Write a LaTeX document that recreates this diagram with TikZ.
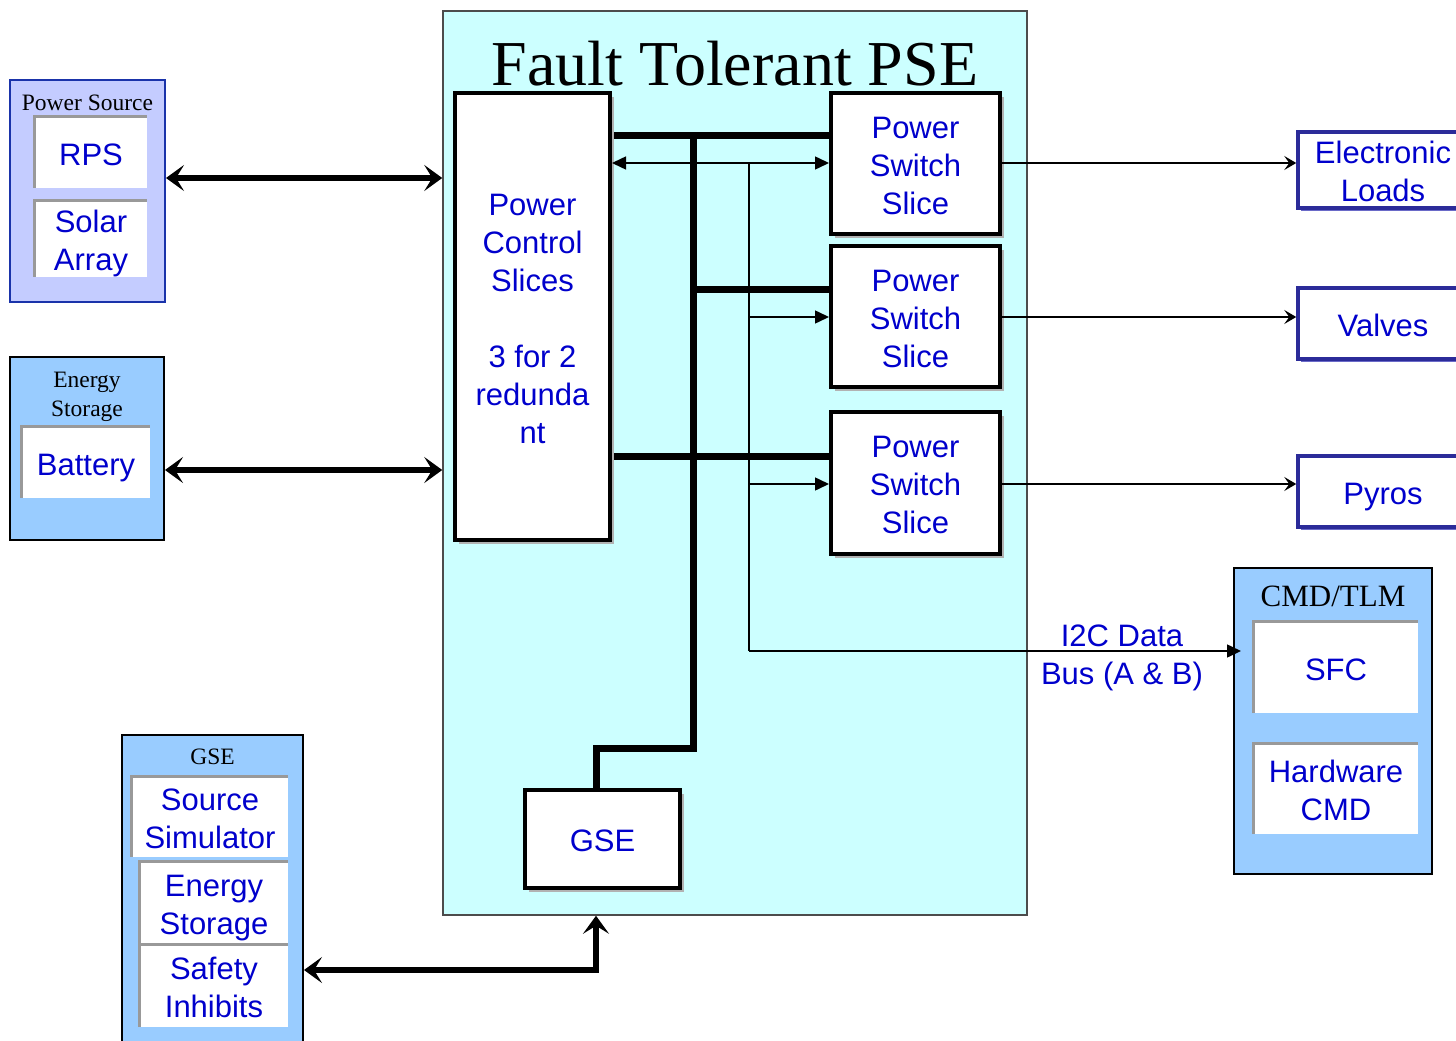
\documentclass[tikz,border=0pt]{standalone}
\usepackage{fontspec}
\setmainfont{Liberation Serif}
\newfontfamily\arialf{Liberation Sans}
\usetikzlibrary{arrows.meta,shadows}
\definecolor{txtblue}{HTML}{0000CC}
\definecolor{psefill}{HTML}{CCFFFF}
\definecolor{boxblue}{HTML}{99CCFF}
\definecolor{srcfill}{HTML}{C4CCFF}
\definecolor{srcedge}{HTML}{1A33AA}
\definecolor{loadedge}{HTML}{2B2B99}
\definecolor{loadshadow}{HTML}{6A6AC8}
\definecolor{insetgray}{HTML}{999999}
\newcommand\sansbody{\arialf\fontsize{31}{38}\selectfont}
\newcommand\smalltitle{\fontsize{23.5}{29}\selectfont}
% centred lines of box text, set a little below the geometric centre
\newcommand\boxtext[1]{\raisebox{-5pt}[\height][\depth]{\begin{tabular}{@{}c@{}}#1\end{tabular}}}
\tikzset{
  sized/.style 2 args={minimum width=#1pt, minimum height=#2pt},
  box/.style={rectangle, inner sep=0pt, font=\sansbody, text=txtblue},
  blkbox/.style={box, fill=white, draw=black, line width=4pt,
    drop shadow={shadow xshift=4pt, shadow yshift=-4pt, fill=gray!60, opacity=1}},
  insetbox/.style={box, fill=white},
  insetline/.style={draw=insetgray, line width=3pt},
  loadbox/.style={box, fill=white, draw=loadedge, line width=3.5pt,
    drop shadow={shadow xshift=3pt, shadow yshift=-3pt, fill=loadshadow, opacity=1}},
  container/.style={rectangle, inner sep=0pt, fill=boxblue, draw=black, line width=2pt},
  ctitle/.style={inner sep=0pt, align=center, font=\smalltitle},
  bus/.style={line width=7pt},
  thickarrow/.style={line width=6pt, {Stealth[length=18pt,width=26pt,inset=8pt]}-{Stealth[length=18pt,width=26pt,inset=8pt]}},
  thinarrow/.style={line width=1.5pt, -{Triangle[length=14pt,width=13pt]}},
  thindouble/.style={line width=1.5pt, {Triangle[length=14pt,width=13pt]}-{Triangle[length=14pt,width=13pt]}},
  outarrow/.style={line width=1.5pt, -{Stealth[length=12pt,width=14pt,inset=5pt]}},
}
\begin{document}
\begin{tikzpicture}[x=1pt,y=-1pt]
\clip (0,0) rectangle (1456,1041);
\fill[white] (0,0) rectangle (1456,1041);

% Fault tolerant PSE enclosure
\node[rectangle, inner sep=0pt, sized={584}{904}, fill=psefill, draw=black!70, line width=1.5pt] (pse) at (735,463) {};
\node[anchor=base, inner sep=0pt, font=\fontsize{64}{70}\selectfont] (psetitle) at (735,85) {Fault Tolerant PSE};

% power bus (thick)
\draw[bus] (610,135) -- (831,135);
\draw[bus] (693,135) -- (693,748) -- (596,748) -- (596,790);
\draw[bus] (693,289) -- (831,289);
\draw[bus] (610,456) -- (831,456);

% slices
\node[blkbox, sized={155}{447}] (pcs) at (532.5,316.5) {\boxtext{Power\\Control\\Slices\\ \\3 for 2\\redunda\\nt}};
\node[blkbox, sized={169}{141}] (pss1) at (915.5,163.5) {\boxtext{Power\\Switch\\Slice}};
\node[blkbox, sized={169}{141}] (pss2) at (915.5,316.5) {\boxtext{Power\\Switch\\Slice}};
\node[blkbox, sized={169}{142}] (pss3) at (915.5,483) {\boxtext{Power\\Switch\\Slice}};
\node[blkbox, sized={155}{98}] (gsei) at (602.5,839) {\boxtext{GSE}};

% data lines (thin)
\draw[thindouble] (pcs.east |- 0,163) -- (pss1.west |- 0,163);
\coordinate (tap) at (749,163);
\draw[line width=1.5pt] (tap) -- (749,651);
\draw[thinarrow] (749,317) -- (pss2.west |- 0,317);
\draw[thinarrow] (749,484) -- (pss3.west |- 0,484);

% power source
\node[rectangle, inner sep=0pt, sized={155}{222}, fill=srcfill, draw=srcedge, line width=2pt] (ps) at (87.5,191) {};
\node[ctitle] (pstitle) at (87.5,103) {Power Source};
\node[insetbox, sized={112}{71}] (rps) at (91,152.5) {\boxtext{RPS}};
\node[insetbox, sized={112}{73}] (solar) at (91,238.5) {\boxtext{Solar\\Array}};

% energy storage
\node[container, sized={154}{183}] (es) at (87,448.5) {};
\node[ctitle] (estitle) at (87,397) {Energy\\Storage};
\node[insetbox, sized={128}{71}] (batt) at (86,462.5) {\boxtext{Battery}};

% GSE
\node[container, sized={181}{315}] (gse) at (212.5,892.5) {};
\node[ctitle] (gsetitle) at (212.5,757) {GSE};
\node[insetbox, sized={156}{80}] (srcsim) at (210,817) {\boxtext{Source\\Simulator}};
\node[insetbox, sized={148}{81}] (gsees) at (214,902.5) {\boxtext{Energy\\Storage}};
\node[insetbox, sized={148}{82}] (safety) at (214,986) {\boxtext{Safety\\Inhibits}};

% CMD/TLM
\node[container, sized={198}{306}] (cmd) at (1333,721) {};
\node[ctitle, font=\fontsize{31}{36}\selectfont] (cmdtitle) at (1333,596) {CMD/TLM};
\node[insetbox, sized={164}{91}] (sfc) at (1336,667.5) {\boxtext{SFC}};
\node[insetbox, sized={164}{90}] (hwcmd) at (1336,789) {\boxtext{Hardware\\CMD}};

\foreach \n in {rps,solar,batt,srcsim,gsees,safety,sfc,hwcmd}
  \draw[insetline] (\n.south west) |- (\n.north east);

% loads
\node[loadbox, sized={170}{70}] (eload) at (1383,170) {\boxtext{Electronic\\Loads}};
\node[loadbox, sized={170}{71}] (valves) at (1383,323.5) {\boxtext{Valves}};
\node[loadbox, sized={170}{71}] (pyros) at (1383,491.5) {\boxtext{Pyros}};

\draw[outarrow] (pss1.east |- 0,163) -- (eload.west |- 0,163);
\draw[outarrow] (pss2.east |- 0,317) -- (valves.west |- 0,317);
\draw[outarrow] (pss3.east |- 0,484) -- (pyros.west |- 0,484);

% I2C data bus
\draw[thinarrow, shorten >=-8pt] (749,651) -- (cmd.west |- 0,651);
\node[box] (i2c) at (1122,653) {\boxtext{I2C Data\\Bus (A \& B)}};

% power interfaces (thick, bidirectional)
\draw[thickarrow] (ps.east |- 0,178) -- (pse.west |- 0,178);
\draw[thickarrow] (es.east |- 0,470) -- (pse.west |- 0,470);
\draw[thickarrow] (gse.east |- 0,970) -- (596,970) -- (596,0 |- pse.south);
\end{tikzpicture}
\end{document}
